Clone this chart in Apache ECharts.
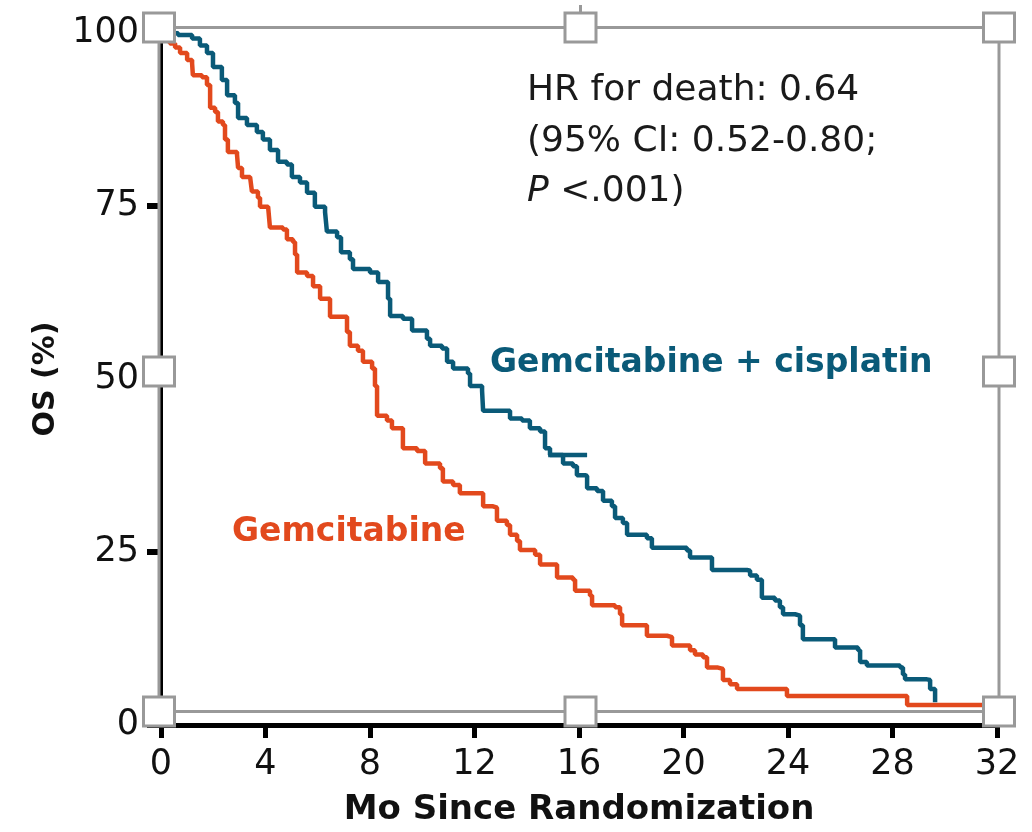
<!DOCTYPE html>
<html>
<head>
<meta charset="utf-8">
<script src="https://cdn.jsdelivr.net/npm/echarts@6/dist/echarts.min.js"></script>
<style>
  html, body { margin: 0; padding: 0; background: #ffffff; }
  #chart { width: 1032px; height: 832px; }
</style>
</head>
<body>
<div id="chart"></div>
<script>
// Axis ticks
const monthTicks = [0, 4, 8, 12, 16, 20, 24, 28, 32];
const osTicks = [0, 25, 50, 75, 100];

// Kaplan-Meier steps: [month, OS %] at each drop
const gemCisSteps = [
  [0, 100], [0.65, 99.7], [1.19, 99.2], [1.49, 98.2], [1.76, 97.1], [1.99, 95.1],
  [2.33, 93.2], [2.53, 91.0], [2.83, 89.9], [2.95, 87.7], [3.29, 86.7], [3.67, 85.7],
  [3.90, 84.6], [4.17, 83.1], [4.48, 81.4], [4.82, 81.0], [5.01, 79.2], [5.32, 78.4],
  [5.59, 76.9], [5.89, 74.9], [6.28, 74.1], [6.35, 71.3], [6.74, 70.5], [6.89, 68.3],
  [7.23, 67.3], [7.35, 65.9], [8.00, 65.4], [8.31, 64.0], [8.69, 61.6], [8.77, 59.1],
  [9.26, 58.7], [9.61, 57.0], [10.18, 55.8], [10.30, 54.8], [10.76, 54.4], [10.95, 52.5],
  [11.18, 51.5], [11.75, 50.8], [11.83, 49.0], [12.29, 48.3], [12.33, 45.4], [13.09, 45.4],
  [13.36, 44.3], [13.82, 44.0], [14.12, 42.9], [14.51, 42.4], [14.70, 40.0], [14.89, 39.0],
  [15.39, 37.8], [15.77, 37.4], [15.92, 36.1], [16.23, 36.0], [16.31, 34.2], [16.69, 33.8],
  [16.92, 32.4], [17.26, 31.6], [17.38, 29.9], [17.68, 29.2], [17.84, 27.5], [18.60, 27.0],
  [18.79, 25.6], [20.13, 25.2], [20.25, 24.2], [20.94, 24.2], [21.09, 22.4], [22.43, 22.3],
  [22.55, 21.6], [22.81, 21.0], [23.00, 18.4], [23.31, 18.4], [23.50, 18.0], [23.69, 17.0],
  [23.81, 16.0], [24.27, 15.8], [24.46, 14.4], [24.57, 12.4], [25.61, 12.4], [25.80, 11.2],
  [26.68, 10.8], [26.76, 9.1], [27.02, 8.6], [28.29, 8.3], [28.40, 7.3], [28.48, 6.6],
  [29.32, 6.5], [29.44, 5.2], [29.63, 5.0], [29.63, 3.3]
];
// short horizontal stroke on the combination arm near 15-16 months
const gemCisMark = [[14.82, 39.0], [16.31, 39.0]];

const gemSteps = [
  [0, 100], [0.34, 98.5], [0.54, 97.9], [0.73, 97.1], [1.00, 96.1], [1.19, 95.6],
  [1.22, 93.9], [1.57, 93.6], [1.76, 92.5], [1.88, 89.2], [2.07, 88.6], [2.18, 87.2],
  [2.37, 86.7], [2.45, 84.6], [2.56, 82.8], [2.91, 82.4], [2.95, 80.5], [3.10, 79.2],
  [3.41, 79.1], [3.48, 77.1], [3.71, 76.2], [3.79, 74.9], [4.10, 74.8], [4.17, 71.9],
  [4.67, 71.6], [4.82, 70.2], [5.05, 69.8], [5.13, 68.0], [5.21, 65.4], [5.59, 64.9],
  [5.82, 63.4], [6.09, 61.6], [6.47, 61.3], [6.47, 59.0], [6.97, 59.0], [7.12, 56.8],
  [7.23, 54.8], [7.54, 54.1], [7.73, 52.5], [8.08, 51.5], [8.19, 49.0], [8.27, 44.7],
  [8.65, 44.0], [8.84, 42.9], [9.26, 41.4], [9.26, 40.0], [9.80, 39.6], [10.11, 37.8],
  [10.68, 37.1], [10.79, 35.2], [11.18, 34.7], [11.44, 33.5], [12.33, 33.2], [12.33, 31.6],
  [12.71, 31.4], [12.86, 29.5], [13.24, 28.9], [13.36, 27.5], [13.63, 26.6], [13.74, 25.3],
  [14.32, 24.6], [14.51, 23.2], [15.16, 23.0], [15.16, 21.3], [15.77, 21.0], [15.85, 19.4],
  [16.42, 18.7], [16.50, 17.3], [17.38, 17.0], [17.57, 16.0], [17.65, 14.4], [18.45, 14.4],
  [18.60, 12.9], [19.37, 12.7], [19.56, 11.5], [20.25, 10.8], [20.44, 10.2], [20.75, 9.8],
  [20.90, 8.3], [21.32, 8.1], [21.51, 6.5], [21.78, 5.9], [22.05, 5.2], [23.96, 4.2],
  [28.56, 2.9], [31.85, 2.9]
];

const armNames = ['Gemcitabine + cisplatin', 'Gemcitabine'];
const statLines = ['HR for death: 0.64', '(95% CI: 0.52-0.80;', '{it|P} <.001)'];

const TEAL = '#0a5a78';
const ORANGE = '#e2491d';
const FONT = 'DejaVu Sans';

const chart = echarts.init(document.getElementById('chart'), null, { renderer: 'canvas' });

// selection-frame handles drawn around the plot
const handleCenters = [
  [159, 27.5], [580.5, 27.5], [999, 27.5],
  [159, 371.5], [999, 371.5],
  [159, 711.5], [580.5, 711.5], [999, 711.5]
];
const handles = handleCenters.map(c => ({
  type: 'rect',
  z: 100,
  shape: { x: c[0] - 15.5, y: c[1] - 14.5, width: 31, height: 29 },
  style: { fill: '#ffffff', stroke: '#999999', lineWidth: 3 }
}));

chart.setOption({
  animation: false,
  backgroundColor: '#ffffff',
  grid: { left: 161, right: 35, top: 33, bottom: 104 },
  xAxis: {
    type: 'value',
    min: monthTicks[0],
    max: monthTicks[monthTicks.length - 1],
    interval: monthTicks[1] - monthTicks[0],
    name: 'Mo Since Randomization',
    nameLocation: 'middle',
    nameGap: 68,
    nameTextStyle: { fontFamily: FONT, fontSize: 34, fontWeight: 'bold', color: '#111' },
    axisLine: { lineStyle: { color: '#000', width: 5 } },
    axisTick: { length: 13, lineStyle: { color: '#000', width: 5 } },
    axisLabel: { fontFamily: FONT, fontSize: 35, color: '#111', margin: 22 },
    splitLine: { show: false }
  },
  yAxis: {
    type: 'value',
    min: osTicks[0],
    max: osTicks[osTicks.length - 1],
    interval: osTicks[1] - osTicks[0],
    name: 'OS (%)',
    nameLocation: 'middle',
    nameGap: 100,
    nameRotate: 90,
    nameTextStyle: { fontFamily: FONT, fontSize: 30, fontWeight: 'bold', color: '#111' },
    axisLine: { show: true, lineStyle: { color: '#000', width: 3 } },
    axisTick: { show: true, length: 14, lineStyle: { color: '#000', width: 6 } },
    axisLabel: { fontFamily: FONT, fontSize: 35, color: '#111', margin: 22 },
    splitLine: { show: false }
  },
  series: [
    {
      name: armNames[0],
      type: 'line',
      step: 'end',
      data: gemCisSteps,
      showSymbol: false,
      lineStyle: { color: TEAL, width: 4.5 },
      z: 3
    },
    {
      name: armNames[0] + ' mark',
      type: 'line',
      data: gemCisMark,
      showSymbol: false,
      lineStyle: { color: TEAL, width: 4.5 },
      z: 3
    },
    {
      name: armNames[1],
      type: 'line',
      step: 'end',
      data: gemSteps,
      showSymbol: false,
      lineStyle: { color: ORANGE, width: 4.5 },
      z: 2
    }
  ],
  graphic: [
    {
      type: 'rect',
      z: 90,
      shape: { x: 159, y: 27.5, width: 840, height: 684 },
      style: { fill: 'none', stroke: '#999999', lineWidth: 3 }
    },
    {
      type: 'line',
      z: 90,
      shape: { x1: 580.5, y1: 5, x2: 580.5, y2: 14 },
      style: { stroke: '#999999', lineWidth: 3 }
    },
    ...handles,
    {
      type: 'text', z: 50, left: 527, top: 73,
      style: { text: statLines[0], font: '36px "DejaVu Sans"', fill: '#1a1a1a' }
    },
    {
      type: 'text', z: 50, left: 527, top: 124,
      style: { text: statLines[1], font: '36px "DejaVu Sans"', fill: '#1a1a1a' }
    },
    {
      type: 'text', z: 50, left: 527, top: 174,
      style: {
        text: statLines[2], font: '36px "DejaVu Sans"', fill: '#1a1a1a',
        rich: { it: { fontStyle: 'italic', fontFamily: FONT, fontSize: 36, fill: '#1a1a1a' } }
      }
    },
    {
      type: 'text', z: 50, left: 490, top: 347,
      style: { text: armNames[0], font: 'bold 33px "DejaVu Sans"', fill: TEAL }
    },
    {
      type: 'text', z: 50, left: 232, top: 516,
      style: { text: armNames[1], font: 'bold 33px "DejaVu Sans"', fill: ORANGE }
    }
  ]
});
</script>
</body>
</html>
